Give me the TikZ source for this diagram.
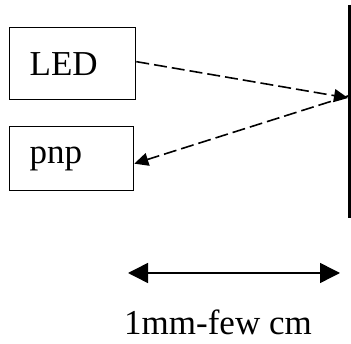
\documentclass[tikz,border=0pt]{standalone}
\usepackage{fontspec}
\setmainfont{Liberation Serif}
\usetikzlibrary{arrows.meta,positioning}

\begin{document}
\begin{tikzpicture}[
        x=1pt, y=-1pt,
        every node/.style={font=\fontsize{35}{40}\selectfont},
        box/.style={draw, line width=1.3pt, anchor=north west, inner xsep=20pt, inner ysep=0pt, align=left},
        beam/.style={line width=1.6pt, dash pattern=on 13pt off 5pt, -{Triangle[length=14pt,width=13pt]}},
    ]
        \useasboundingbox (0,0) rectangle (351,344);

        % --- Boxes ---
        \node[box, text width=86pt, minimum height=72pt] (led) at (9,27)  {LED};
        \node[box, text width=84pt, minimum height=64pt] (pnp) at (9,126) {pnp};

        % --- Reflecting surface ---
        \coordinate (walltop) at (349,5);
        \coordinate (wallbot) at (349,218);
        \coordinate (hit)     at (348,98);
        \draw[line width=3pt] (walltop) -- (wallbot);

        % --- Beams ---
        \draw[beam] ([yshift=2pt]led.east) -- (hit);
        \draw[beam] ([yshift=2pt]hit) -- ([yshift=-5pt]pnp.east);

        % --- Distance ---
        \coordinate (dl) at (128,273);
        \coordinate (dr) at (340,273);
        \draw[line width=1.5pt, {Triangle[length=20pt,width=20pt]}-{Triangle[length=20pt,width=20pt]}] (dl) -- (dr);
        \node[anchor=base] (dist) at (218,335) {1mm-few cm};

    \end{tikzpicture}
\end{document}
